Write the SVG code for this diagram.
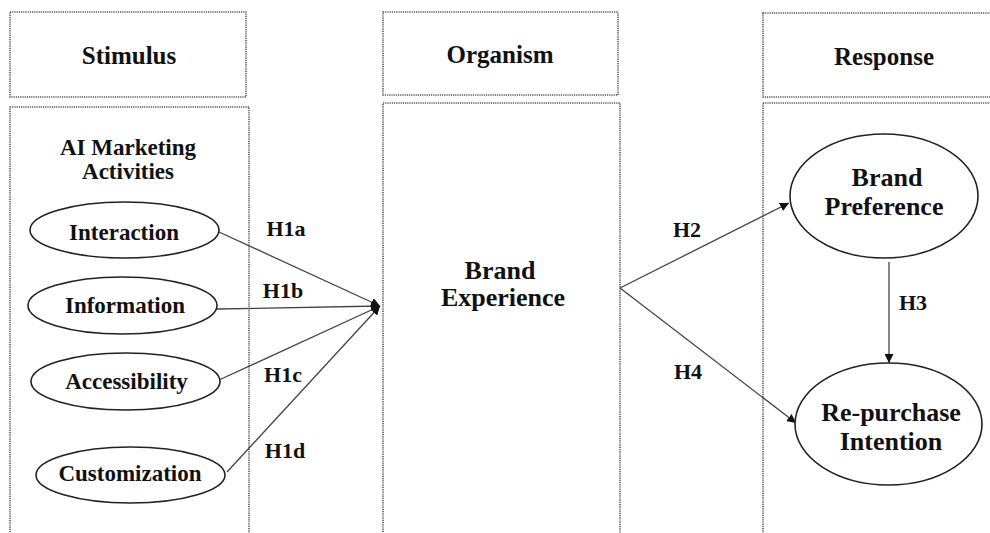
<svg xmlns="http://www.w3.org/2000/svg" width="990" height="533" viewBox="0 0 990 533">
<style>
.box{fill:none;stroke:#555;stroke-width:1.6;stroke-dasharray:1.2 1}
.ell{fill:#fff;stroke:#222;stroke-width:1.6}
.t{font-family:"Liberation Serif","Times New Roman",serif;font-weight:bold;fill:#111;text-anchor:middle}
.h{font-size:25px}
.n{font-size:23px}
.b{font-size:26px}
.l{font-size:22px}
.c{stroke:#444;stroke-width:1.3;fill:none}
</style>
<defs>
<marker id="ah" viewBox="0 0 10 10" refX="10" refY="5" markerWidth="9" markerHeight="9" markerUnits="userSpaceOnUse" orient="auto">
<path d="M0,0 L10,5 L0,10 z" fill="#111"/>
</marker>
</defs>
<rect width="990" height="533" fill="#fff"/>
<g id="stimulus-header"><rect class="box" x="10" y="12" width="236" height="85"/><text class="t h" x="129" y="64">Stimulus</text></g>
<g id="organism-header"><rect class="box" x="383" y="12" width="235" height="83"/><text class="t h" x="500" y="63">Organism</text></g>
<g id="response-header"><rect class="box" x="763" y="13" width="240" height="84"/><text class="t h" x="884" y="65">Response</text></g>
<g id="stimulus-body"><rect class="box" x="10" y="107" width="239" height="440"/><text class="t n" x="128" y="155">AI Marketing</text><text class="t n" x="128" y="179">Activities</text></g>
<g id="organism-body"><rect class="box" x="383" y="103" width="237" height="445"/><text class="t b" x="500" y="279">Brand</text><text class="t b" x="503" y="306">Experience</text></g>
<g id="response-body"><rect class="box" x="763" y="103" width="240" height="445"/></g>
<g id="connectors">
<line class="c" x1="219" y1="232" x2="380" y2="306" marker-end="url(#ah)"/>
<line class="c" x1="217" y1="309" x2="380" y2="306" marker-end="url(#ah)"/>
<line class="c" x1="219" y1="380" x2="380" y2="306" marker-end="url(#ah)"/>
<line class="c" x1="227" y1="472" x2="380" y2="306" marker-end="url(#ah)"/>
<line class="c" x1="620" y1="288" x2="789" y2="203" marker-end="url(#ah)"/>
<line class="c" x1="620" y1="288" x2="796" y2="423" marker-end="url(#ah)"/>
<line class="c" x1="889" y1="262" x2="889" y2="363" marker-end="url(#ah)"/>
<text class="t l" x="286" y="236">H1a</text>
<text class="t l" x="283" y="298">H1b</text>
<text class="t l" x="283" y="382">H1c</text>
<text class="t l" x="285" y="458">H1d</text>
<text class="t l" x="687" y="237">H2</text>
<text class="t l" x="688" y="379">H4</text>
<text class="t l" x="913" y="310">H3</text>
</g>
<g id="interaction"><ellipse class="ell" cx="124.5" cy="230" rx="94.5" ry="28"/><text class="t n" x="124" y="240">Interaction</text></g>
<g id="information"><ellipse class="ell" cx="122.5" cy="305.5" rx="94.5" ry="28.5"/><text class="t n" x="125" y="313">Information</text></g>
<g id="accessibility"><ellipse class="ell" cx="125.5" cy="381.5" rx="94.5" ry="28.5"/><text class="t n" x="126.5" y="389">Accessibility</text></g>
<g id="customization"><ellipse class="ell" cx="130.5" cy="475" rx="94.5" ry="28"/><text class="t n" x="130" y="481">Customization</text></g>
<g id="brand-preference"><ellipse class="ell" cx="884" cy="196" rx="94" ry="62"/><text class="t b" x="887" y="186">Brand</text><text class="t b" x="884" y="215">Preference</text></g>
<g id="repurchase-intention"><ellipse class="ell" cx="888.5" cy="424" rx="93.5" ry="61"/><text class="t b" x="891" y="421">Re-purchase</text><text class="t b" x="891" y="450">Intention</text></g>
</svg>
